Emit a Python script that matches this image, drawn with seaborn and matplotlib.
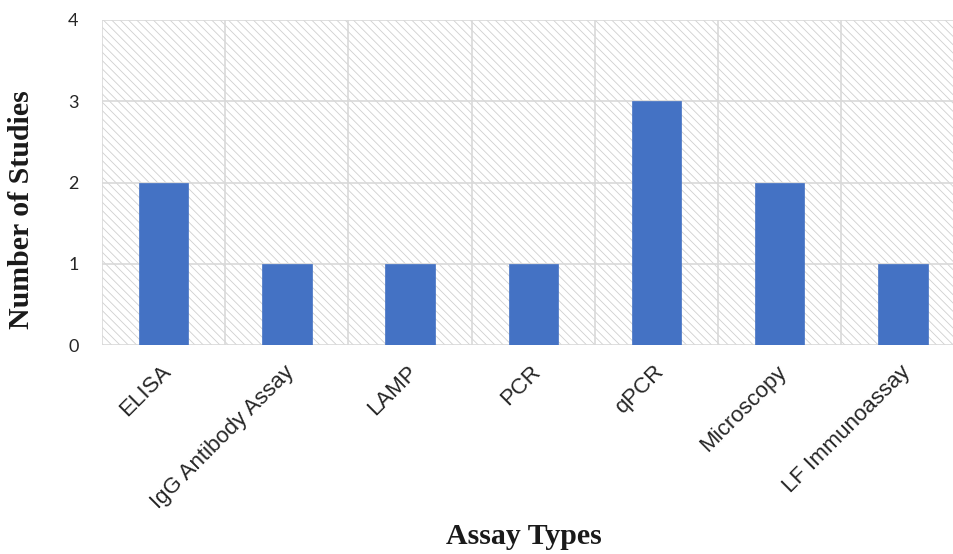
import numpy as np
import pandas as pd
import seaborn as sns
import matplotlib.pyplot as plt
import matplotlib.transforms as mtransforms
from matplotlib.patches import Rectangle

assay_types = ["ELISA", "IgG Antibody Assay", "LAMP", "PCR", "qPCR", "Microscopy", "LF Immunoassay"]
num_studies = [2, 1, 1, 1, 3, 2, 1]

sns.set_style("white")
plt.rcParams['font.family'] = ['Liberation Sans', 'DejaVu Sans']
plt.rcParams['hatch.linewidth'] = 0.6

df = pd.DataFrame({"assay": assay_types, "n": num_studies})

fig = plt.figure(figsize=(9.54, 5.54), dpi=100)
ax = fig.add_axes([0.107, 0.377, 0.904, 0.587])

# fundo hachurado
fundo = Rectangle((0, 0), 1, 1, transform=ax.transAxes, facecolor='white',
                  edgecolor='#d0d0d0', hatch='\\' * 4, linewidth=0, zorder=0)
ax.add_patch(fundo)

sns.barplot(data=df, x="assay", y="n", color="#4472C4", width=0.4,
            saturation=1, edgecolor="#4472C4", linewidth=0.5, ax=ax, zorder=3)

ax.set_xlim(-0.5, len(assay_types) - 0.5)
ax.set_ylim(0, 4)
ax.set_yticks(range(0, 5))

for v in range(0, 5):
    ax.axhline(v, color='#d9d9d9', lw=1.2, zorder=1)
for b in np.arange(-0.5, len(assay_types), 1):
    ax.axvline(b, color='#d9d9d9', lw=1.2, zorder=1)

for s in ax.spines.values():
    s.set_visible(False)

ax.tick_params(axis='y', length=0, pad=17, labelsize=13)
ax.tick_params(axis='x', length=0, pad=17, labelsize=16)
for lbl in ax.get_yticklabels():
    lbl.set_fontfamily('Lato')
    lbl.set_color('#262626')
ax.set_xticks(range(len(assay_types)))
ax.set_xticklabels(assay_types, rotation=45, ha='right', va='center',
                   rotation_mode='anchor', color='#262626')
deslocamento = mtransforms.ScaledTranslation(4 / 100, 0, fig.dpi_scale_trans)
for lbl in ax.get_xticklabels():
    lbl.set_transform(lbl.get_transform() + deslocamento)
ax.set_xlabel("")
ax.set_ylabel("")

fig.text(524 / 954, 1 - 537 / 554, "Assay Types", ha='center', va='center',
         fontsize=21.5, fontweight='bold', family='Liberation Serif', color='#1a1a1a')
fig.text(22 / 954, 1 - 210 / 554, "Number of Studies", ha='center', va='center',
         rotation=90, fontsize=21.5, fontweight='bold', family='Liberation Serif', color='#1a1a1a')

fig.savefig("out.png", dpi=100)
